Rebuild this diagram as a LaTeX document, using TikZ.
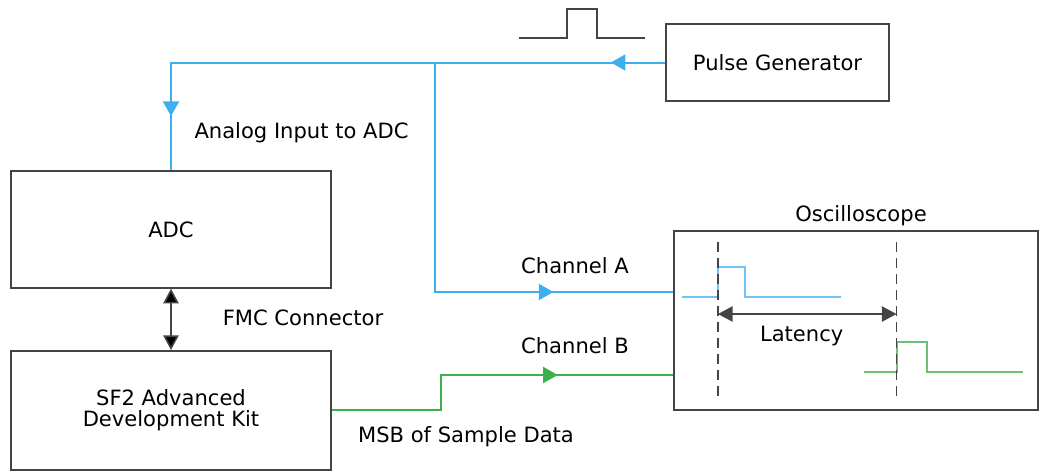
\documentclass[tikz,border=0pt]{standalone}
\usepackage{fontspec}
\setmainfont{DejaVu Sans}
\usetikzlibrary{positioning,arrows.meta,decorations.markings}

\definecolor{sigblue}{RGB}{62,175,238}
\definecolor{sigbluelt}{RGB}{112,196,245}
\definecolor{siggreen}{RGB}{58,178,76}
\definecolor{siggreenlt}{RGB}{108,192,118}
\definecolor{edgegray}{RGB}{68,68,68}

\tikzset{
  block/.style={draw=edgegray,line width=1.1pt,minimum width=240pt,minimum height=87.75pt,
    align=center,font=\fontsize{15.8}{15.5}\selectfont},
  lbl/.style={anchor=base,inner sep=0pt,font=\fontsize{15.8}{15.5}\selectfont},
  wire/.style={draw=#1,line width=1.5pt},
  midarrow/.style={postaction={decorate,decoration={markings,
    mark=at position #1 with {\arrow{Triangle[length=11pt,width=12pt]}}}}},
  conn/.style={draw=edgegray,line width=1.2pt},
  bigtip/.style={{Triangle[length=11pt,width=11.5pt]}-{Triangle[length=11pt,width=11.5pt]}},
  dashline/.style={draw=edgegray,line width=1.3pt,dash pattern=on 7.5pt off 4.5pt},
  trace/.style={draw=#1,line width=1.3pt},
}

\begin{document}
\begin{tikzpicture}[x=0.75pt,y=-0.75pt]
\useasboundingbox (0,0) rectangle (1040,471);

% blocks
\node[block,minimum width=167pt,minimum height=57.75pt] (pulsegen) at (777.5,62.5) {Pulse Generator};
\node[block] (adc) at (171,229.5) {ADC};
\node[block,minimum height=89.25pt,below=46pt of adc] (kit) {SF2 Advanced\\Development Kit};
\node[block,minimum width=273pt,minimum height=134.25pt] (scope) at (856,320.5) {};

% pulse shape
\draw[edgegray,line width=1.1pt] (519,38) -- (567,38) -- (567,9) -- (597,9) -- (597,38) -- (645,38);

% signal wires
\coordinate (split) at (435,0 |- pulsegen.west);
\draw[wire=sigblue,midarrow=41pt,midarrow=411pt]
  (pulsegen.west) -- (adc.north |- pulsegen.west) -- (adc.north);
\draw[wire=sigblue,midarrow=261pt]
  (split) -- (split |- 0,292) -- (scope.west |- 0,292);
\draw[wire=siggreen,midarrow=196pt]
  (kit.east) -- (441,0 |- kit.east) -- (441,375) -- (scope.west |- 0,375);

\path[conn,bigtip] (adc) edge (kit);

% traces on the scope
\draw[trace=sigbluelt] (682,297) -- (718,297) -- (718,267) -- (745,267) -- (745,297) -- (841,297);
\draw[trace=siggreenlt] (864,372) -- (897,372) -- (897,342) -- (927,342) -- (927,372) -- (1023,372);

\coordinate (markA) at (718,242);
\coordinate (markB) at (896.5,242);
\draw[dashline] (markA) -- (markA |- 0,397);
\draw[dashline] (markB) -- (markB |- 0,397);
\draw[conn,bigtip] (markA |- 0,314) -- (markB |- 0,314);

% labels
\node[lbl] (analog) at (301.5,138) {Analog Input to ADC};
\node[lbl] (fmc) at (303,325.7) {FMC Connector};
\node[lbl] (chanA) at (575,273.5) {Channel A};
\node[lbl] (chanB) at (575,353.5) {Channel B};
\node[lbl] (msb) at (466,442.3) {MSB of Sample Data};
\node[lbl] (osc) at (861,221.7) {Oscilloscope};
\node[lbl] (latency) at (801.7,341) {Latency};

\end{tikzpicture}
\end{document}
